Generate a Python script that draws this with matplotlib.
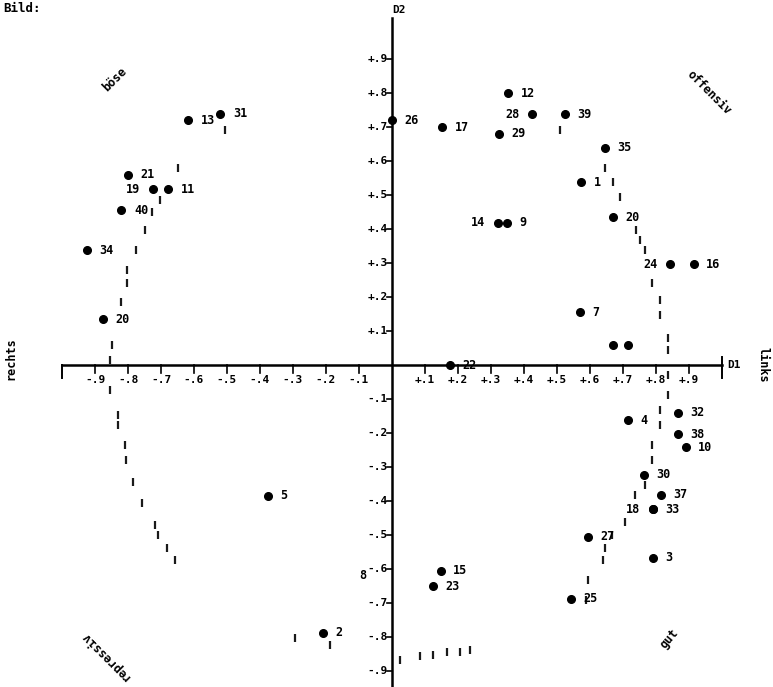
import matplotlib
matplotlib.use("Agg")
import matplotlib.pyplot as plt

# Punkte (D1, D2) mit Nummern
point_ids = ["13", "31", "21", "19", "11", "40", "34", "20",
             "12", "28", "39", "26", "17", "29", "35", "1", "14", "9", "20", "24", "16", "7", "", "",
             "22", "32", "4", "38", "10", "30", "37", "18", "33", "27", "3", "15", "23", "25",
             "5", "2"]
d1 = [-0.618, -0.52, -0.80, -0.724, -0.679, -0.82, -0.924, -0.876,
      0.352, 0.424, 0.524, 0.0, 0.152, 0.324, 0.645, 0.573, 0.321, 0.348, 0.67, 0.842, 0.915, 0.57, 0.67, 0.715,
      0.176, 0.867, 0.715, 0.867, 0.89, 0.764, 0.815, 0.79, 0.79, 0.594, 0.79, 0.148, 0.124, 0.542,
      -0.376, -0.209]
d2 = [0.72, 0.74, 0.56, 0.518, 0.518, 0.456, 0.338, 0.135,
      0.80, 0.738, 0.738, 0.72, 0.70, 0.68, 0.64, 0.538, 0.418, 0.418, 0.435, 0.297, 0.297, 0.156, 0.06, 0.06,
      0.0, -0.14, -0.162, -0.203, -0.241, -0.323, -0.382, -0.424, -0.424, -0.505, -0.567, -0.605, -0.65, -0.688,
      -0.385, -0.788]
# Nummern, die links vom Punkt stehen
left_labels = {"19", "28", "14", "24", "18"}

# kleine Variablen-Markierungen entlang des Kreises
var_d1 = [-0.648, -0.703, -0.727, -0.748, -0.776, -0.803, -0.803, -0.821, -0.848, -0.855,
          -0.855, -0.830, -0.830, -0.809, -0.806, -0.785, -0.758, -0.718, -0.709, -0.682, -0.658,
          0.645, 0.670, 0.691, 0.739, 0.752, 0.767, 0.788, 0.812, 0.812, 0.836, 0.836,
          0.836, 0.836, 0.812, 0.812, 0.788, 0.788, 0.767, 0.736, 0.706, 0.667, 0.645, 0.639, 0.594, 0.588,
          -0.294, -0.188, 0.024, 0.085, 0.124, 0.167, 0.206, 0.236, -0.506, 0.509]
var_d2 = [0.579, 0.485, 0.45, 0.397, 0.338, 0.279, 0.241, 0.185, 0.059, 0.015,
          -0.074, -0.147, -0.176, -0.235, -0.279, -0.344, -0.406, -0.471, -0.5, -0.538, -0.574,
          0.579, 0.538, 0.494, 0.397, 0.368, 0.338, 0.241, 0.191, 0.147, 0.079, 0.044,
          -0.029, -0.088, -0.132, -0.176, -0.235, -0.279, -0.353, -0.382, -0.462, -0.5, -0.538, -0.574, -0.632, -0.691,
          -0.803, -0.824, -0.868, -0.856, -0.853, -0.844, -0.844, -0.838, 0.691, 0.691]

tick_vals = [-0.9, -0.8, -0.7, -0.6, -0.5, -0.4, -0.3, -0.2, -0.1,
             0.1, 0.2, 0.3, 0.4, 0.5, 0.6, 0.7, 0.8, 0.9]
tick_text = ["-.9", "-.8", "-.7", "-.6", "-.5", "-.4", "-.3", "-.2", "-.1",
             "+.1", "+.2", "+.3", "+.4", "+.5", "+.6", "+.7", "+.8", "+.9"]

FONT = dict(family="DejaVu Sans Mono", fontweight="bold", color="black")

fig = plt.figure(figsize=(7.73, 6.87), dpi=100)
ax = fig.add_axes([0, 0, 1, 1])
ax.set_xlim(-1.188, 1.155)
ax.set_ylim(-0.947, 1.074)
ax.axis("off")

# Achsen
ax.plot([-1.0, 1.0], [0, 0], color="black", lw=1.8)
ax.plot([0, 0], [-0.96, 1.02], color="black", lw=1.8)
for t, s in zip(tick_vals, tick_text):
    ax.plot([t, t], [0, -0.022], color="black", lw=1.2)
    ax.text(t, -0.045, s, ha="center", va="center", fontsize=8, **FONT)
    ax.plot([-0.015, 0], [t, t], color="black", lw=1.2)
    ax.text(-0.012, t, s, ha="right", va="center", fontsize=8, **FONT)
ax.plot([-1.0, -1.0], [0, -0.038], color="black", lw=1.4)
ax.plot([1.0, 1.0], [0.025, -0.038], color="black", lw=1.4)
ax.text(1.015, 0.0, "D1", ha="left", va="center", fontsize=8, **FONT)
ax.text(0.0, 1.045, "D2", ha="left", va="center", fontsize=8, **FONT)

# Kreis-Markierungen
ax.plot(var_d1, var_d2, linestyle="none", marker="|", markersize=6,
        markeredgewidth=1.6, color="#1a1a1a")

# Punkte
ax.plot(d1, d2, linestyle="none", marker="o", markersize=5.5, color="black")
for lab, x, y in zip(point_ids, d1, d2):
    if not lab:
        continue
    if lab in left_labels:
        ax.annotate(lab, (x, y), xytext=(-9, 0), textcoords="offset points",
                    ha="right", va="center", fontsize=8.5, **FONT)
    else:
        ax.annotate(lab, (x, y), xytext=(9, 0), textcoords="offset points",
                    ha="left", va="center", fontsize=8.5, **FONT)
ax.text(-0.088, -0.618, "8", ha="center", va="center", fontsize=8.5, **FONT)

# Quadranten-Beschriftung
ax.text(-0.84, 0.84, "böse", rotation=45, ha="center", va="center", fontsize=8.5, **FONT)
ax.text(0.96, 0.80, "offensiv", rotation=-45, ha="center", va="center", fontsize=8.5, **FONT)
ax.text(-0.87, -0.855, "repressiv", rotation=135, ha="center", va="center", fontsize=8.5, **FONT)
ax.text(0.84, -0.805, "gut", rotation=50, ha="center", va="center", fontsize=8.5, **FONT)
ax.text(-1.155, 0.02, "rechts", rotation=90, ha="center", va="center", fontsize=8.5, **FONT)
ax.text(1.125, 0.0, "links", rotation=270, ha="center", va="center", fontsize=8.5, **FONT)

fig.text(0.004, 0.997, "Bild:", ha="left", va="top", fontsize=9, **FONT)

fig.savefig("out.png", dpi=100)
